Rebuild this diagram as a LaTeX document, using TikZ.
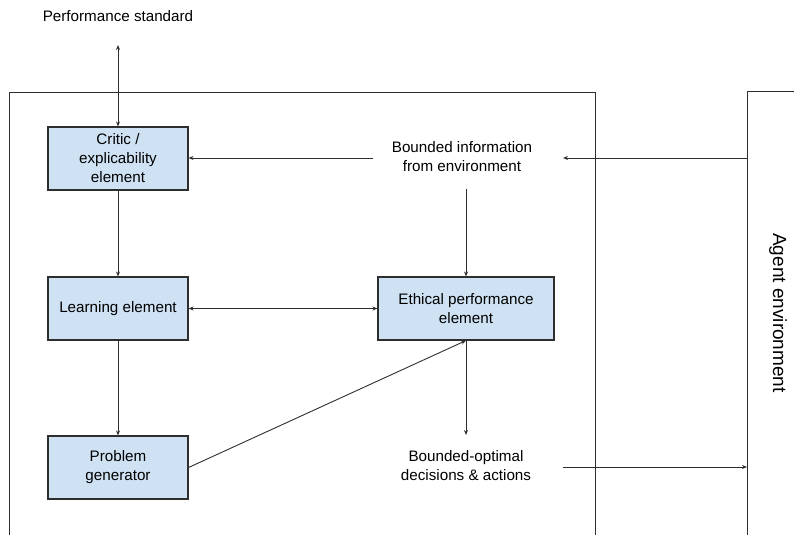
\documentclass[tikz,border=0pt]{standalone}
\usepackage{fontspec}
\setmainfont{Liberation Sans}
\usetikzlibrary{arrows.meta}
\definecolor{boxfill}{HTML}{CFE2F3}
\definecolor{ink}{HTML}{2E2E2E}
\tikzset{
  block/.style={draw=ink, line width=1.1pt, fill=boxfill, minimum width=140pt, minimum height=63pt,
                align=center, font=\fontsize{15.2}{19}\selectfont, inner sep=0pt},
  label/.style={align=center, font=\fontsize{15.2}{19}\selectfont, inner sep=0pt},
  frame/.style={draw=ink, line width=1pt},
  flow/.style={draw=ink, line width=0.9pt, -{Stealth[length=5pt,width=4pt]}},
  both/.style={draw=ink, line width=0.9pt, {Stealth[length=5pt,width=4pt]}-{Stealth[length=5pt,width=4pt]}}
}
\begin{document}
\begin{tikzpicture}[x=1pt,y=-1pt]
\useasboundingbox (0,0) rectangle (794,535);
% agent frame and environment frame (open at the bottom)
\draw[frame] (9,535) -- (9,92) -- (595,92) -- (595,535);
\draw[frame] (794,91) -- (747,91) -- (747,535);
\node[rotate=-90, font=\fontsize{19}{22}\selectfont, inner sep=0pt] (env) at (778,313) {Agent environment};
\coordinate (envin) at (747,158);
\coordinate (envout) at (747,467);

% components
\node[block] (critic) at (118,158.5) {Critic /\\explicability\\element};
\node[block] (learn) at (118,308.5) {Learning element};
\node[block] (gen) at (118,467.5) {Problem\\generator};
\node[block, minimum width=176pt] (ethic) at (466,308.5) {Ethical performance\\element};

% free labels and the free ends of the arrows touching them
\node[label] (perf) at (118,16) {Performance standard};
\coordinate (perfend) at (118,45);
\node[label] (info) at (462,157) {Bounded information\\from environment};
\coordinate (infoR) at (563,158);
\coordinate (infoL) at (373,158);
\coordinate (infoB) at (466,189);
\node[label] (act) at (466,466) {Bounded-optimal\\decisions \& actions};
\coordinate (actT) at (466,435);
\coordinate (actR) at (563,467);

% connectors
\draw[both] (critic.north) -- (perfend);
\draw[flow] (envin) -- (infoR);
\draw[flow] (infoL) -- (critic.east |- infoL);
\draw[flow] (infoB) -- (ethic.north);
\draw[flow] (critic.south) -- (learn.north);
\draw[both] (learn.east) -- (ethic.west);
\draw[flow] (learn.south) -- (gen.north);
\draw[flow] (gen.east) -- (ethic.south);
\draw[flow] (ethic.south) -- (actT);
\draw[flow] (actR) -- (envout);
\end{tikzpicture}
\end{document}
